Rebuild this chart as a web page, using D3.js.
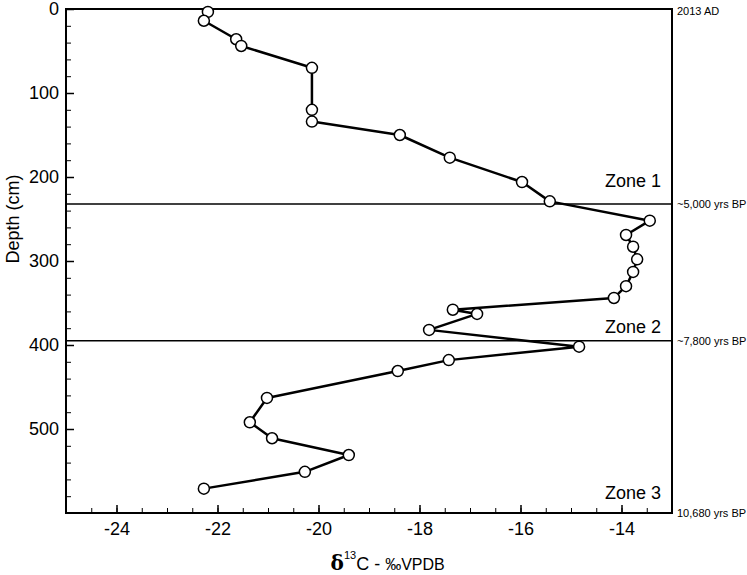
<!DOCTYPE html>
<html>
<head>
<meta charset="utf-8">
<script src="https://cdn.jsdelivr.net/npm/d3@7"></script>
<style>
  body { margin: 0; background: #fff; }
  text { font-family: "Liberation Sans", Arial, Helvetica, sans-serif; }
</style>
</head>
<body>
<script>
// Core data
var depth = [3.5, 14, 36, 44, 70, 120, 134, 150, 177, 206, 229, 252, 269, 283, 298, 313, 330, 344,
             358, 363, 382, 402, 418, 431, 463, 492, 511, 531, 551, 571];
var d13C = [-22.19, -22.27, -21.63, -21.53, -20.13, -20.13, -20.13, -18.39, -17.40, -15.97, -15.42,
            -13.44, -13.91, -13.77, -13.69, -13.77, -13.91, -14.15, -17.34, -16.86, -17.81, -14.84,
            -17.42, -18.43, -21.02, -21.36, -20.92, -19.40, -20.27, -22.27];

var zoneBounds = [232, 395];
var zoneNames = ["Zone 1", "Zone 2", "Zone 3"];
var zoneLabelDepth = [212, 386, 583];
var ageLabels = ["2013 AD", "~5,000 yrs BP", "~7,800 yrs BP", "10,680 yrs BP"];
var ageDepths = [3, 232, 395, 600];

var xTicks = [-24, -22, -20, -18, -16, -14];
var yTicks = [0, 100, 200, 300, 400, 500];

// Define SVG area dimensions
var svgWidth = 747;
var svgHeight = 575;
var margin = { top: 9, right: 75, bottom: 62, left: 66 };
var chartWidth = svgWidth - margin.left - margin.right;
var chartHeight = svgHeight - margin.top - margin.bottom;

var svg = d3.select("body")
  .append("svg")
  .attr("width", svgWidth)
  .attr("height", svgHeight);

var chartGroup = svg.append("g")
  .attr("transform", `translate(${margin.left}, ${margin.top})`);

var xScale = d3.scaleLinear().domain([-25, -13]).range([0, chartWidth]);
var yScale = d3.scaleLinear().domain([0, 600]).range([0, chartHeight]);

// minor ticks (inward)
chartGroup.append("g")
  .attr("transform", `translate(0, ${chartHeight})`)
  .call(d3.axisTop(xScale).tickValues(d3.range(-24.5, -13, 0.5)).tickSize(5).tickFormat(""))
  .call(g => g.select(".domain").remove())
  .selectAll("line").attr("stroke-width", 1);

chartGroup.append("g")
  .call(d3.axisRight(yScale).tickValues(d3.range(20, 600, 20)).tickSize(5).tickFormat(""))
  .call(g => g.select(".domain").remove())
  .selectAll("line").attr("stroke-width", 1);

// major ticks + labels (plain hyphen for minus, like the original)
var bottomAxis = chartGroup.append("g")
  .attr("transform", `translate(0, ${chartHeight})`)
  .call(d3.axisTop(xScale).tickValues(xTicks).tickSize(8).tickPadding(-30)
    .tickFormat(d => String(d)))
  .call(g => g.select(".domain").remove());
bottomAxis.selectAll("line").attr("stroke-width", 1.5);
bottomAxis.selectAll("text").attr("font-size", 18).attr("fill", "#000");

var leftAxis = chartGroup.append("g")
  .call(d3.axisRight(yScale).tickValues(yTicks).tickSize(8).tickPadding(-16)
    .tickFormat(d => String(d)))
  .call(g => g.select(".domain").remove());
leftAxis.selectAll("line").attr("stroke-width", 1.5);
leftAxis.selectAll("text").attr("font-size", 18).attr("fill", "#000")
  .attr("text-anchor", "end").attr("x", -7);

// frame
chartGroup.append("rect")
  .attr("width", chartWidth)
  .attr("height", chartHeight)
  .attr("fill", "none")
  .attr("stroke", "#000")
  .attr("stroke-width", 2);

// zone boundaries
chartGroup.selectAll(".zone-line")
  .data(zoneBounds)
  .enter()
  .append("line")
  .attr("x1", 0)
  .attr("x2", chartWidth)
  .attr("y1", d => yScale(d))
  .attr("y2", d => yScale(d))
  .attr("stroke", "#000")
  .attr("stroke-width", 1.5);

chartGroup.selectAll(".zone-label")
  .data(zoneNames)
  .enter()
  .append("text")
  .attr("x", chartWidth - 11)
  .attr("y", (d, i) => yScale(zoneLabelDepth[i]))
  .attr("text-anchor", "end")
  .attr("font-size", 18)
  .text(d => d);

// ages on the right
chartGroup.selectAll(".age-label")
  .data(ageLabels)
  .enter()
  .append("text")
  .attr("x", chartWidth + 5)
  .attr("y", (d, i) => yScale(ageDepths[i]))
  .attr("dy", "0.35em")
  .attr("font-size", 11)
  .text(d => d);

// data line
var line = d3.line()
  .x((d, i) => xScale(d13C[i]))
  .y(d => yScale(d));

chartGroup.append("path")
  .datum(depth)
  .attr("d", line)
  .attr("fill", "none")
  .attr("stroke", "#000")
  .attr("stroke-width", 2.5)
  .attr("stroke-linejoin", "round");

chartGroup.selectAll(".dot")
  .data(depth)
  .enter()
  .append("circle")
  .attr("class", "dot")
  .attr("cx", (d, i) => xScale(d13C[i]))
  .attr("cy", d => yScale(d))
  .attr("r", 5.5)
  .attr("fill", "#fff")
  .attr("stroke", "#000")
  .attr("stroke-width", 1.5);

// axis titles
svg.append("text")
  .attr("transform", `translate(19, ${margin.top + yScale(250)}) rotate(-90)`)
  .attr("text-anchor", "middle")
  .attr("font-size", 18)
  .text("Depth (cm)");

var xTitle = svg.append("text")
  .attr("x", margin.left + xScale(-18.63))
  .attr("y", 570)
  .attr("text-anchor", "middle");
xTitle.append("tspan")
  .attr("font-family", "'DejaVu Serif', 'Liberation Serif', serif")
  .attr("font-weight", "bold")
  .attr("font-size", 20)
  .text("δ");
xTitle.append("tspan")
  .attr("font-size", 11)
  .attr("dy", -11)
  .text("13");
xTitle.append("tspan")
  .attr("font-size", 18)
  .attr("dy", 11)
  .text("C - ");
xTitle.append("tspan")
  .attr("font-size", 16)
  .text("‰VPDB");
</script>
</body>
</html>
